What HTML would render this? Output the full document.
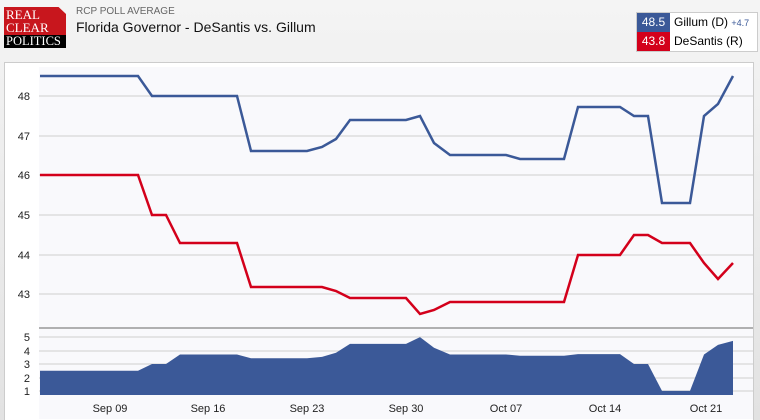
<!DOCTYPE html>
<html><head><style>
body{margin:0;width:760px;height:420px;overflow:hidden;background:linear-gradient(#f4f4f4,#e2e2e2);font-family:"Liberation Sans",sans-serif;position:relative}
.logo{position:absolute;left:4px;top:7px;width:62px;height:40px;font-family:"Liberation Serif",serif;font-size:13px;line-height:13px;color:#fff}
.t1{position:absolute;left:76px;top:6px;font-size:10px;color:#666}
.t2{position:absolute;left:76px;top:19px;font-size:14px;color:#111}
.leg{position:absolute;left:636px;top:12px;width:120px;height:38px;border:1px solid #ccc;background:#fff;font-size:12px}
.leg div{position:relative;height:19px;line-height:19px}
.leg span.v{display:inline-block;width:33px;text-align:center;color:#fff;margin-right:4px}
</style></head><body>
<div class="logo"><div style="background:#c8161d;height:27px;padding:1px 0 0 2px;clip-path:polygon(0 0,88% 0,100% 25%,100% 100%,0 100%)">REAL<br>CLEAR</div><div style="background:#000;padding:0 0 0 2px;height:13px;font-size:12.5px">POLITICS</div></div>
<div class="t1">RCP POLL AVERAGE</div>
<div class="t2">Florida Governor - DeSantis vs. Gillum</div>
<div class="leg"><div><span class="v" style="background:#3b5998">48.5</span>Gillum (D) <span style="font-size:9px;color:#3b5998">+4.7</span></div><div><span class="v" style="background:#d3001b">43.8</span>DeSantis (R)</div></div>
<svg width="760" height="420" style="position:absolute;left:0;top:0" font-family="Liberation Sans, sans-serif" font-size="11">
<rect x="4.5" y="62.5" width="749" height="360" fill="#fff" stroke="#ccc"/>
<rect x="39" y="67" width="714" height="352" fill="#f9f9fc"/>
<g stroke="#ddd" stroke-width="1.5">
<line x1="39" x2="753" y1="96" y2="96"/><line x1="39" x2="753" y1="136" y2="136"/><line x1="39" x2="753" y1="175" y2="175"/><line x1="39" x2="753" y1="215" y2="215"/><line x1="39" x2="753" y1="255" y2="255"/><line x1="39" x2="753" y1="294" y2="294"/>
<line x1="39" x2="753" y1="337" y2="337"/><line x1="39" x2="753" y1="351" y2="351"/><line x1="39" x2="753" y1="364" y2="364"/><line x1="39" x2="753" y1="378" y2="378"/><line x1="39" x2="753" y1="391" y2="391"/>
</g>
<line x1="39" x2="753" y1="328" y2="328" stroke="#666"/>
<g fill="#222" text-anchor="end">
<text x="30" y="100">48</text><text x="30" y="140">47</text><text x="30" y="179">46</text><text x="30" y="219">45</text><text x="30" y="259">44</text><text x="30" y="298">43</text>
<text x="30" y="341">5</text><text x="30" y="355">4</text><text x="30" y="368">3</text><text x="30" y="382">2</text><text x="30" y="395">1</text>
</g>
<g fill="#222" text-anchor="middle">
<text x="110" y="412">Sep 09</text><text x="208" y="412">Sep 16</text><text x="307" y="412">Sep 23</text><text x="406" y="412">Sep 30</text><text x="506" y="412">Oct 07</text><text x="605" y="412">Oct 14</text><text x="706" y="412">Oct 21</text>
</g>
<path id="sp" fill="#3b5998"/>
<polyline id="g" fill="none" stroke="#3b5998" stroke-width="2.5"/>
<polyline id="d" fill="none" stroke="#d3001b" stroke-width="2.5"/>
</svg>
<script>
var xs=[40,138,152,166,180,237,251,307,322,336,350,406,420,434,450,506,520,564,578,620,634,648,662,690,704,718,733];
var G=[76,76,96,96,96,96,151,151,147,139,120,120,116,143,155,155,159,159,107,107,116,116,203,203,116,104,76];
var D=[175,175,215,215,243,243,287,287,287,291,298,298,314,310,302,302,302,302,255,255,235,235,243,243,263,279,263];
function pts(a){return xs.map(function(x,i){return x+','+a[i]}).join(' ')}
document.getElementById('g').setAttribute('points',pts(G));
document.getElementById('d').setAttribute('points',pts(D));
var p='M40,395';xs.forEach(function(x,i){var s=(D[i]-G[i])/39.67;p+=' L'+x+','+(391-(s-1)*13.5).toFixed(1)});p+=' L733,395Z';
document.getElementById('sp').setAttribute('d',p);
</script>
</body></html>
